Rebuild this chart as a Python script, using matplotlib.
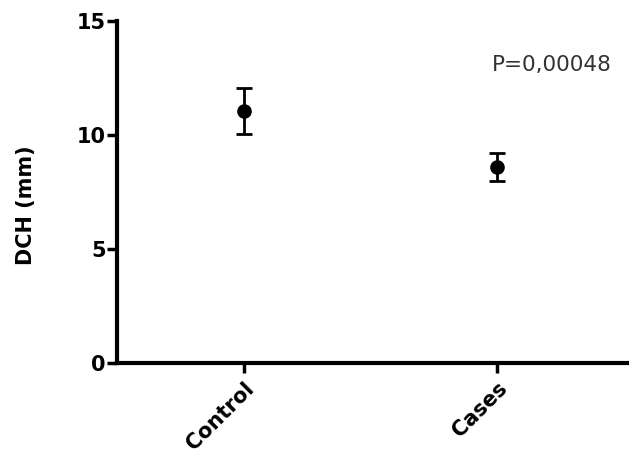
import matplotlib
matplotlib.use("Agg")

import matplotlib.pyplot as plt


groups = ["Control", "Cases"]
means = [11.05, 8.6]
errors = [1.0, 0.62]
p_label = "P=0,00048"


fig = plt.figure(figsize=(6.29, 4.57), dpi=100)
ax = fig.add_axes([0.186, 0.206, 0.814, 0.748])

positions = list(range(len(groups)))

ax.errorbar(
    positions,
    means,
    yerr=errors,
    fmt="o",
    color="black",
    markersize=9.5,
    elinewidth=2,
    capsize=6,
    capthick=2
)

ax.set_xlim(-0.502, 1.52)
ax.set_ylim(0, 15)
ax.set_yticks([0, 5, 10, 15])

ax.set_xticks(positions)
ax.set_xticklabels(groups, rotation=45, ha="right", rotation_mode="anchor",
                   fontsize=15, fontweight="bold")
for label in ax.get_yticklabels():
    label.set_fontsize(15)
    label.set_fontweight("bold")

ax.tick_params(axis="both", width=2.5, length=7, pad=1)
ax.tick_params(axis="x", pad=4)

for side in ["top", "right"]:
    ax.spines[side].set_visible(False)
for side in ["left", "bottom"]:
    ax.spines[side].set_linewidth(3)

ax.set_ylabel("DCH (mm)", fontsize=15, fontweight="bold")
ax.yaxis.set_label_coords(-0.158, 0.46)

ax.text(1.217, 13.08, p_label, fontsize=15.5, color="#333333",
        ha="center", va="center")

plt.savefig("out.png")
plt.close()
